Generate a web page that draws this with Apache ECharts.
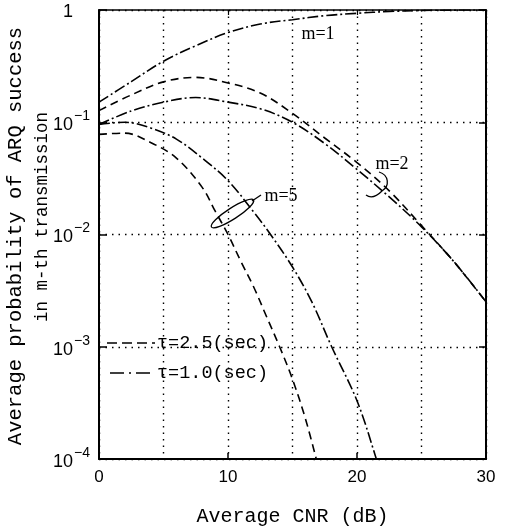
<!DOCTYPE html>
<html>
<head>
<meta charset="utf-8">
<script src="https://cdn.jsdelivr.net/npm/echarts@6/dist/echarts.min.js"></script>
<style>
html,body{margin:0;padding:0;background:#fff;}
#chart{width:508px;height:532px;}
</style>
</head>
<body>
<div id="chart"></div>
<script>
// ---- data ----
const xTicks = [0, 10, 20, 30];
const yTickExponents = [0, -1, -2, -3, -4];

// m = 1, tau = 1.0 s (dash-dot)
const cnrM1b = [0, 2.5, 5, 7.5, 10, 12.5, 15, 17.5, 20, 22.5, 25, 27.5, 30];
const probM1b = [0.151, 0.23, 0.35, 0.48, 0.63, 0.75, 0.82, 0.89, 0.935, 0.97, 0.99, 0.998, 1.0];

// m = 2, tau = 2.5 s (dashed)
const cnrM2a = [0, 2.5, 5, 7.5, 10, 12.5, 15, 17.5, 20, 22.5, 25, 27.5, 30];
const probM2a = [0.127, 0.175, 0.229, 0.251, 0.224, 0.182, 0.120, 0.0724, 0.0437, 0.0245, 0.0120, 0.00575, 0.00251];

// m = 2, tau = 1.0 s (dash-dot)
const cnrM2b = [0, 2.5, 5, 7.5, 10, 12.5, 15, 17.5, 20, 22.5, 25, 27.5, 30];
const probM2b = [0.0955, 0.126, 0.151, 0.166, 0.151, 0.132, 0.100, 0.0646, 0.038, 0.0216, 0.0117, 0.00575, 0.00251];

// m = 5, tau = 2.5 s (dashed)
const cnrM5a = [0, 2, 4, 6, 8, 9, 10, 11, 12, 13, 14, 15, 16, 17];
const probM5a = [0.078, 0.080, 0.066, 0.048, 0.0263, 0.0162, 0.010, 0.00575, 0.00339, 0.00184, 0.001, 0.000513, 0.000229, 0.000085];

// m = 5, tau = 1.0 s (dash-dot)
const cnrM5b = [0, 2, 4, 6, 8, 10, 12, 13.3, 15, 16.5, 18, 20, 21.5, 22];
const probM5b = [0.0955, 0.1, 0.089, 0.0708, 0.0479, 0.0302, 0.0158, 0.01, 0.00513, 0.00251, 0.00102, 0.00033, 0.0001, 0.000063];

const tau25 = 'τ=2.5(sec)';
const tau10 = 'τ=1.0(sec)';
const curveLabels = ['m=1', 'm=2', 'm=5'];

// ---- styles ----
const DASH = [8, 5];
const DASHDOT = [11, 3, 2, 3];
const dotted = {color: '#000', type: [1.5, 5], width: 1.4};
const SANS = '"Liberation Sans", Arial, sans-serif';
const MONO = '"Liberation Mono", monospace';
const SERIF = '"Liberation Serif", serif';

function pairs(xs, ys) { return xs.map((x, i) => [x, ys[i]]); }
function lineSeries(name, xs, ys, dash) {
  return {
    name: name, type: 'line', data: pairs(xs, ys),
    xAxisIndex: 0, yAxisIndex: 0,
    smooth: 0.35, symbol: 'none', showSymbol: false, clip: true,
    lineStyle: {color: '#000', width: 1.6, type: dash},
    itemStyle: {color: '#000'},
    emphasis: {disabled: true}, silent: true, z: 3
  };
}

const chart = echarts.init(document.getElementById('chart'), null, {renderer: 'canvas'});
const option = {
  backgroundColor: '#fff',
  animation: false,
  grid: {left: 99, right: 22, top: 10, bottom: 64, containLabel: false},
  xAxis: [{
    type: 'value', min: 0, max: 30, interval: 10, position: 'bottom',
    axisLine: {show: true, onZero: false, lineStyle: {color: '#000', width: 2}},
    axisTick: {show: true, inside: true, length: 6, lineStyle: {color: '#000', width: 1.5}},
    axisLabel: {color: '#000', fontSize: 17, fontFamily: SANS, margin: 10,
      formatter: v => (xTicks.indexOf(v) >= 0 ? String(v) : '')},
    splitLine: {show: true, lineStyle: dotted},
    minorTick: {show: false, splitNumber: 2},
    minorSplitLine: {show: true, lineStyle: dotted},
    name: 'Average CNR (dB)', nameLocation: 'middle', nameGap: 48,
    nameTextStyle: {fontFamily: MONO, fontSize: 20, color: '#000'}
  }, {
    type: 'value', min: 0, max: 30, interval: 10, position: 'top',
    axisLine: {show: true, onZero: false, lineStyle: {color: '#000', width: 1.5}},
    axisTick: {show: true, inside: true, length: 5, lineStyle: {color: '#000', width: 1.2}},
    axisLabel: {show: false}, splitLine: {show: false}
  }],
  yAxis: [{
    type: 'log', logBase: 10, min: 1e-4, max: 1, position: 'left',
    axisLine: {show: true, onZero: false, lineStyle: {color: '#000', width: 2}},
    axisTick: {show: true, inside: true, length: 8, lineStyle: {color: '#000', width: 1.5}},
    axisLabel: {show: false},
    splitLine: {show: true, lineStyle: dotted},
    minorTick: {show: false}, minorSplitLine: {show: false}
  }, {
    type: 'log', logBase: 10, min: 1e-4, max: 1, position: 'right',
    axisLine: {show: true, onZero: false, lineStyle: {color: '#000', width: 2}},
    axisTick: {show: true, inside: true, length: 7, lineStyle: {color: '#000', width: 1.5}},
    axisLabel: {show: false}, splitLine: {show: false}
  }],
  series: [
    lineSeries(tau10, cnrM1b, probM1b, DASHDOT),
    lineSeries(tau25, cnrM2a, probM2a, DASH),
    lineSeries(tau10, cnrM2b, probM2b, DASHDOT),
    lineSeries(tau25, cnrM5a, probM5a, DASH),
    lineSeries(tau10, cnrM5b, probM5b, DASHDOT)
  ]
};
chart.setOption(option);

// ---- decorations: y tick labels (placed through the axis scale), titles, legend, annotations ----
const g = [];
yTickExponents.forEach(function (e) {
  const py = chart.convertToPixel({yAxisIndex: 0}, Math.pow(10, e));
  if (e === 0) {
    g.push({type: 'text', x: 73, y: py + 2, z: 10,
      style: {text: '1', fontFamily: SANS, fontSize: 18, fill: '#000', align: 'right', verticalAlign: 'middle'}});
  } else {
    g.push({type: 'text', x: 73, y: py + 3, z: 10,
      style: {text: '10', fontFamily: SANS, fontSize: 18, fill: '#000', align: 'right', verticalAlign: 'middle'}});
    g.push({type: 'text', x: 74, y: py - 6, z: 10,
      style: {text: '−' + (-e), fontFamily: SANS, fontSize: 14, fill: '#000', align: 'left', verticalAlign: 'middle'}});
  }
});
g.push(
  {type: 'text', x: 16, y: 236, rotation: Math.PI / 2, z: 10,
    style: {text: 'Average probability of ARQ success', fontFamily: MONO, fontSize: 20.5,
      fill: '#000', align: 'center', verticalAlign: 'middle'}},
  {type: 'text', x: 42, y: 217, rotation: Math.PI / 2, z: 10,
    style: {text: 'in m-th transmission', fontFamily: MONO, fontSize: 17.5,
      fill: '#000', align: 'center', verticalAlign: 'middle'}},
  // legend
  {type: 'line', z: 10, shape: {x1: 107, y1: 343, x2: 155, y2: 343},
    style: {stroke: '#000', lineWidth: 1.6, lineDash: [10, 5]}},
  {type: 'text', x: 157, y: 343, z: 10,
    style: {text: tau25, fontFamily: MONO, fontSize: 18.5, fill: '#000', align: 'left', verticalAlign: 'middle'}},
  {type: 'line', z: 10, shape: {x1: 110, y1: 373, x2: 155, y2: 373},
    style: {stroke: '#000', lineWidth: 1.6, lineDash: [14, 5, 2, 5]}},
  {type: 'text', x: 157, y: 373, z: 10,
    style: {text: tau10, fontFamily: MONO, fontSize: 18.5, fill: '#000', align: 'left', verticalAlign: 'middle'}},
  // curve annotations
  {type: 'text', x: 318, y: 34, z: 10,
    style: {text: curveLabels[0], fontFamily: SERIF, fontSize: 18, fill: '#000', align: 'center', verticalAlign: 'middle'}},
  {type: 'text', x: 392, y: 164, z: 10,
    style: {text: curveLabels[1], fontFamily: SERIF, fontSize: 18, fill: '#000', align: 'center', verticalAlign: 'middle'}},
  {type: 'text', x: 281, y: 196, z: 10,
    style: {text: curveLabels[2], fontFamily: SERIF, fontSize: 18, fill: '#000', align: 'center', verticalAlign: 'middle'}},
  {type: 'ellipse', x: 232.5, y: 213.5, rotation: 0.57, z: 10,
    shape: {cx: 0, cy: 0, rx: 25, ry: 5.5},
    style: {fill: 'none', stroke: '#000', lineWidth: 1.3}},
  {type: 'line', z: 10, shape: {x1: 252, y1: 201, x2: 261, y2: 195},
    style: {stroke: '#000', lineWidth: 1.3}},
  {type: 'bezierCurve', z: 10,
    shape: {x1: 379, y1: 172, cpx1: 389, cpy1: 175, cpx2: 390, cpy2: 186, x2: 382, y2: 191},
    style: {fill: 'none', stroke: '#000', lineWidth: 1.3}},
  {type: 'bezierCurve', z: 10,
    shape: {x1: 382, y1: 191, cpx1: 377, cpy1: 196, cpx2: 371, cpy2: 199, x2: 366, y2: 195},
    style: {fill: 'none', stroke: '#000', lineWidth: 1.3}}
);
chart.setOption({graphic: g});
</script>
</body>
</html>
